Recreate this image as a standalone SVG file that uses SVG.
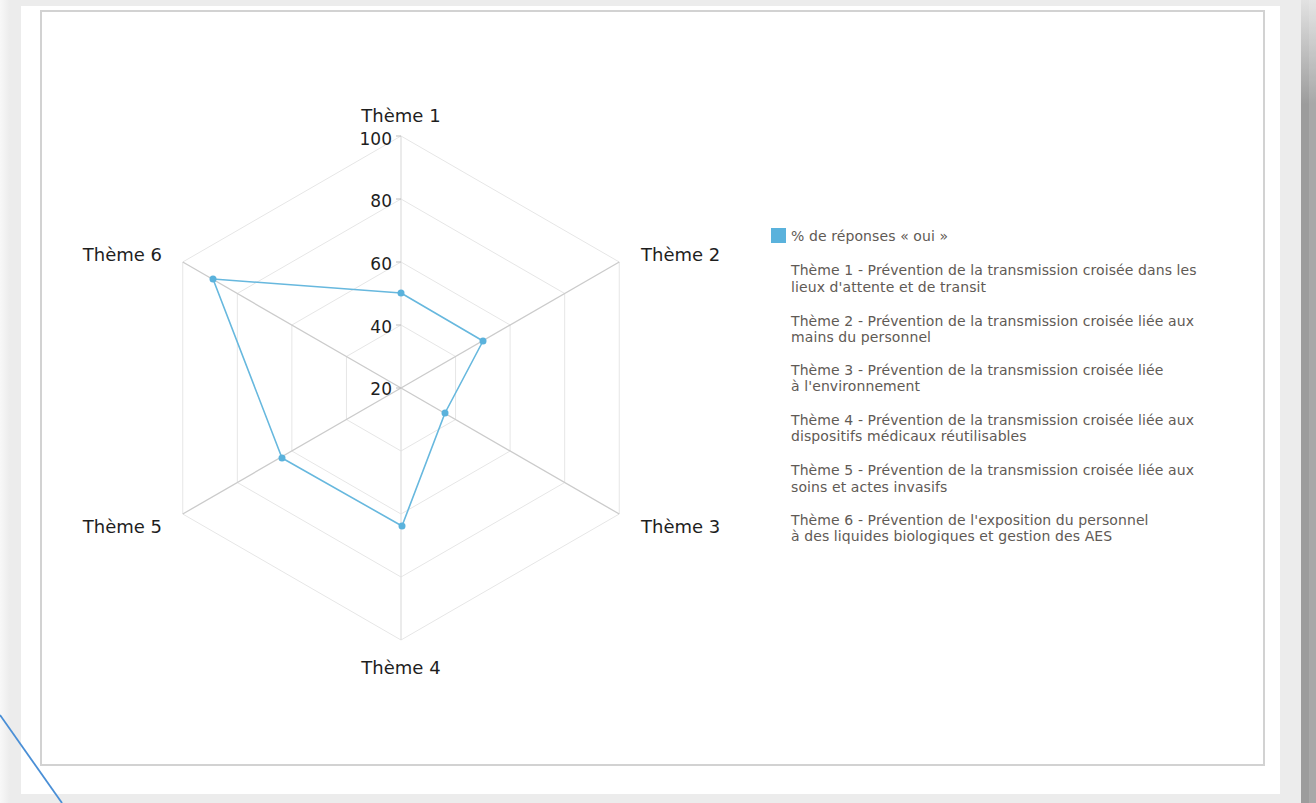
<svg xmlns="http://www.w3.org/2000/svg" width="1316" height="803" viewBox="0 0 1316 803">
<defs>
<linearGradient id="shadowR" x1="0" y1="0" x2="0" y2="1" gradientUnits="objectBoundingBox">
<stop offset="0" stop-color="#e2e2e2"/>
<stop offset="0.13" stop-color="#9c9c9c"/>
<stop offset="1" stop-color="#9c9c9c"/>
</linearGradient>
<linearGradient id="shadowL" x1="0" y1="0" x2="1" y2="0">
<stop offset="0" stop-color="#f8f8f8"/>
<stop offset="1" stop-color="#ececec"/>
</linearGradient>
<style>
.ring{fill:none;stroke:#e6e6e6;stroke-width:1}
.spoke{stroke:#cbcbcb;stroke-width:1.3}
.vaxis{stroke:#dedede;stroke-width:1.2}
.tick{stroke:#bdbdbd;stroke-width:1}
.ax{font-family:"DejaVu Sans",Verdana,sans-serif;font-size:18px;fill:#1e1e1e}
.num{font-family:"DejaVu Sans",Verdana,sans-serif;font-size:17px;fill:#1e1e1e;text-anchor:end}
.leg{font-family:"DejaVu Sans",Verdana,sans-serif;font-size:14px;letter-spacing:0.1px;fill:#5f5a55}
.series{fill:none;stroke:#67b8de;stroke-width:1.6;stroke-linejoin:round}
.dot{fill:#5ab2dc}
</style>
</defs>
<!-- page background / frame -->
<rect x="0" y="0" width="1316" height="803" fill="#ececec"/>
<rect x="0" y="0" width="10" height="803" fill="url(#shadowL)"/>
<rect x="21" y="6" width="1259" height="788" fill="#ffffff"/>
<rect x="1301" y="0" width="15" height="803" fill="url(#shadowR)"/>
<rect x="1309" y="0" width="7" height="803" fill="#ffffff" opacity="0.12"/>
<rect x="41" y="11" width="1223" height="754" fill="#ffffff" stroke="#d2d2d2" stroke-width="2"/>

<g id="grid">
<polygon class="ring" points="401,325 455.56,356.5 455.56,419.5 401,451 346.44,419.5 346.44,356.5"/>
<polygon class="ring" points="401,262 510.12,325 510.12,451 401,514 291.88,451 291.88,325"/>
<polygon class="ring" points="401,199 564.68,293.5 564.68,482.5 401,577 237.32,482.5 237.32,293.5"/>
<polygon class="ring" points="401,136 619.24,262 619.24,514 401,640 182.76,514 182.76,262"/>
<line class="vaxis" x1="401" y1="388" x2="401" y2="136"/>
<line class="vaxis" x1="401" y1="388" x2="401" y2="640"/>
<line class="spoke" x1="401" y1="388" x2="619.24" y2="262"/>
<line class="spoke" x1="401" y1="388" x2="619.24" y2="514"/>
<line class="spoke" x1="401" y1="388" x2="182.76" y2="514"/>
<line class="spoke" x1="401" y1="388" x2="182.76" y2="262"/>
<line class="tick" x1="396" y1="136" x2="401" y2="136"/>
<line class="tick" x1="396" y1="199" x2="401" y2="199"/>
<line class="tick" x1="396" y1="262" x2="401" y2="262"/>
<line class="tick" x1="396" y1="325" x2="401" y2="325"/>
<line class="tick" x1="396" y1="388" x2="401" y2="388"/>
</g>

<g id="scale">
<text class="num" x="392" y="145">100</text>
<text class="num" x="392" y="207">80</text>
<text class="num" x="392" y="270">60</text>
<text class="num" x="392" y="333">40</text>
<text class="num" x="392" y="395">20</text>
</g>

<g id="theme1"><text class="ax" x="401" y="122" text-anchor="middle">Thème 1</text></g>
<g id="theme2"><text class="ax" x="641" y="261">Thème 2</text></g>
<g id="theme3"><text class="ax" x="641" y="533">Thème 3</text></g>
<g id="theme4"><text class="ax" x="401" y="674" text-anchor="middle">Thème 4</text></g>
<g id="theme5"><text class="ax" x="162" y="533" text-anchor="end">Thème 5</text></g>
<g id="theme6"><text class="ax" x="162" y="261" text-anchor="end">Thème 6</text></g>

<g id="connectors">
<polygon class="series" points="401,293 483,341 445,413 402,526 282,458 213,279"/>
</g>
<g id="points">
<circle class="dot" cx="401" cy="293" r="3.5"/>
<circle class="dot" cx="483" cy="341" r="3.5"/>
<circle class="dot" cx="445" cy="413" r="3.5"/>
<circle class="dot" cx="402" cy="526" r="3.5"/>
<circle class="dot" cx="282" cy="458" r="3.5"/>
<circle class="dot" cx="213" cy="279" r="3.5"/>
</g>

<g id="legend">
<rect x="771" y="228" width="15" height="15" fill="#5ab2dc"/>
<text class="leg" x="791" y="241">% de réponses « oui »</text>
<text class="leg" x="791" y="275">Thème 1 - Prévention de la transmission croisée dans les</text>
<text class="leg" x="791" y="292">lieux d'attente et de transit</text>
<text class="leg" x="791" y="326">Thème 2 - Prévention de la transmission croisée liée aux</text>
<text class="leg" x="791" y="342">mains du personnel</text>
<text class="leg" x="791" y="375">Thème 3 - Prévention de la transmission croisée liée</text>
<text class="leg" x="791" y="391">à l'environnement</text>
<text class="leg" x="791" y="425">Thème 4 - Prévention de la transmission croisée liée aux</text>
<text class="leg" x="791" y="441">dispositifs médicaux réutilisables</text>
<text class="leg" x="791" y="475">Thème 5 - Prévention de la transmission croisée liée aux</text>
<text class="leg" x="791" y="492">soins et actes invasifs</text>
<text class="leg" x="791" y="525">Thème 6 - Prévention de l'exposition du personnel</text>
<text class="leg" x="791" y="541">à des liquides biologiques et gestion des AES</text>
</g>

<line x1="0" y1="715" x2="62" y2="803" stroke="#4a8fd6" stroke-width="1.8"/>
</svg>
